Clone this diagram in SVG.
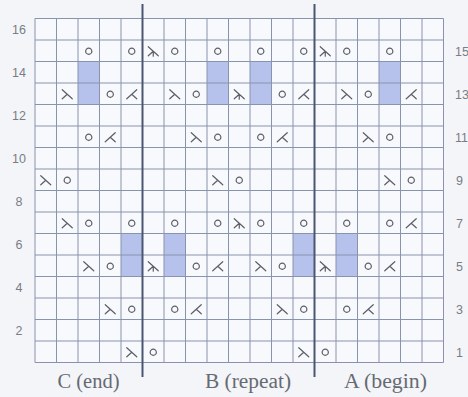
<svg xmlns="http://www.w3.org/2000/svg" xmlns:xlink="http://www.w3.org/1999/xlink" width="468" height="397" viewBox="0 0 468 397">
<style>
.grid line{stroke:#8893ad;stroke-width:1}
.shade{fill:#b7c2ec}
.sym{fill:none;stroke:#5a5e66;stroke-width:1.2;stroke-linecap:round}
.num{font-family:"Liberation Sans",Arial,sans-serif;font-size:12.5px;fill:#7a7d84}
.sec{font-family:"Liberation Serif","Times New Roman",serif;font-size:20px;fill:#666a72;text-anchor:middle}
.divider{stroke:#4b5672;stroke-width:2}
</style>
<defs>
<g id="yo" class="sym"><circle cx="0" cy="0" r="3.1"/></g>
<g id="ssk" class="sym"><path d="M-5,-4.5 L5,4.5 M0,0 L-5,4.5"/></g>
<g id="k2tog" class="sym"><path d="M5,-4.5 L-5,4.5 M0,0 L5,4.5"/></g>
<g id="sk2p" class="sym"><path d="M-5,-4.5 L5,4.5 M0,0 L-5,4.5 M0,0 L0,5"/></g>
</defs>
<rect x="0" y="0" width="468" height="397" fill="#f4f5f9"/>
<rect x="35" y="18.5" width="408.5" height="344" fill="#f8f9fc"/>
<g id="shading">
<rect class="shade" x="78" y="61.5" width="21.5" height="43"/>
<rect class="shade" x="207" y="61.5" width="21.5" height="43"/>
<rect class="shade" x="250" y="61.5" width="21.5" height="43"/>
<rect class="shade" x="379" y="61.5" width="21.5" height="43"/>
<rect class="shade" x="121" y="233.5" width="21.5" height="43"/>
<rect class="shade" x="164" y="233.5" width="21.5" height="43"/>
<rect class="shade" x="293" y="233.5" width="21.5" height="43"/>
<rect class="shade" x="336" y="233.5" width="21.5" height="43"/>
</g>
<g id="grid" class="grid">
<line x1="35" y1="18.5" x2="35" y2="362.5"/>
<line x1="56.5" y1="18.5" x2="56.5" y2="362.5"/>
<line x1="78" y1="18.5" x2="78" y2="362.5"/>
<line x1="99.5" y1="18.5" x2="99.5" y2="362.5"/>
<line x1="121" y1="18.5" x2="121" y2="362.5"/>
<line x1="142.5" y1="18.5" x2="142.5" y2="362.5"/>
<line x1="164" y1="18.5" x2="164" y2="362.5"/>
<line x1="185.5" y1="18.5" x2="185.5" y2="362.5"/>
<line x1="207" y1="18.5" x2="207" y2="362.5"/>
<line x1="228.5" y1="18.5" x2="228.5" y2="362.5"/>
<line x1="250" y1="18.5" x2="250" y2="362.5"/>
<line x1="271.5" y1="18.5" x2="271.5" y2="362.5"/>
<line x1="293" y1="18.5" x2="293" y2="362.5"/>
<line x1="314.5" y1="18.5" x2="314.5" y2="362.5"/>
<line x1="336" y1="18.5" x2="336" y2="362.5"/>
<line x1="357.5" y1="18.5" x2="357.5" y2="362.5"/>
<line x1="379" y1="18.5" x2="379" y2="362.5"/>
<line x1="400.5" y1="18.5" x2="400.5" y2="362.5"/>
<line x1="422" y1="18.5" x2="422" y2="362.5"/>
<line x1="443.5" y1="18.5" x2="443.5" y2="362.5"/>
<line x1="35" y1="18.5" x2="443.5" y2="18.5"/>
<line x1="35" y1="40" x2="443.5" y2="40"/>
<line x1="35" y1="61.5" x2="443.5" y2="61.5"/>
<line x1="35" y1="83" x2="443.5" y2="83"/>
<line x1="35" y1="104.5" x2="443.5" y2="104.5"/>
<line x1="35" y1="126" x2="443.5" y2="126"/>
<line x1="35" y1="147.5" x2="443.5" y2="147.5"/>
<line x1="35" y1="169" x2="443.5" y2="169"/>
<line x1="35" y1="190.5" x2="443.5" y2="190.5"/>
<line x1="35" y1="212" x2="443.5" y2="212"/>
<line x1="35" y1="233.5" x2="443.5" y2="233.5"/>
<line x1="35" y1="255" x2="443.5" y2="255"/>
<line x1="35" y1="276.5" x2="443.5" y2="276.5"/>
<line x1="35" y1="298" x2="443.5" y2="298"/>
<line x1="35" y1="319.5" x2="443.5" y2="319.5"/>
<line x1="35" y1="341" x2="443.5" y2="341"/>
<line x1="35" y1="362.5" x2="443.5" y2="362.5"/>
</g>
<g id="dividers">
<line class="divider" x1="142.5" y1="4" x2="142.5" y2="377"/>
<line class="divider" x1="314.5" y1="4" x2="314.5" y2="377"/>
</g>
<g id="stitches">
<!-- row 15 cy=51.25 -->
<use xlink:href="#yo" x="88.75" y="51.25"/>
<use xlink:href="#yo" x="131.75" y="51.25"/>
<use xlink:href="#sk2p" x="153.25" y="51.25"/>
<use xlink:href="#yo" x="174.75" y="51.25"/>
<use xlink:href="#yo" x="217.75" y="51.25"/>
<use xlink:href="#yo" x="260.75" y="51.25"/>
<use xlink:href="#yo" x="303.75" y="51.25"/>
<use xlink:href="#sk2p" x="325.25" y="51.25"/>
<use xlink:href="#yo" x="346.75" y="51.25"/>
<use xlink:href="#yo" x="389.75" y="51.25"/>
<!-- row 13 cy=94.25 -->
<use xlink:href="#ssk" x="67.25" y="94.25"/>
<use xlink:href="#yo" x="110.25" y="94.25"/>
<use xlink:href="#k2tog" x="131.75" y="94.25"/>
<use xlink:href="#ssk" x="174.75" y="94.25"/>
<use xlink:href="#yo" x="196.25" y="94.25"/>
<use xlink:href="#sk2p" x="239.25" y="94.25"/>
<use xlink:href="#yo" x="282.25" y="94.25"/>
<use xlink:href="#k2tog" x="303.75" y="94.25"/>
<use xlink:href="#ssk" x="346.75" y="94.25"/>
<use xlink:href="#yo" x="368.25" y="94.25"/>
<use xlink:href="#k2tog" x="411.25" y="94.25"/>
<!-- row 11 cy=137.25 -->
<use xlink:href="#yo" x="88.75" y="137.25"/>
<use xlink:href="#k2tog" x="110.25" y="137.25"/>
<use xlink:href="#ssk" x="196.25" y="137.25"/>
<use xlink:href="#yo" x="217.75" y="137.25"/>
<use xlink:href="#yo" x="260.75" y="137.25"/>
<use xlink:href="#k2tog" x="282.25" y="137.25"/>
<use xlink:href="#ssk" x="368.25" y="137.25"/>
<use xlink:href="#yo" x="389.75" y="137.25"/>
<!-- row 9 cy=180.25 -->
<use xlink:href="#ssk" x="45.75" y="180.25"/>
<use xlink:href="#yo" x="67.25" y="180.25"/>
<use xlink:href="#ssk" x="217.75" y="180.25"/>
<use xlink:href="#yo" x="239.25" y="180.25"/>
<use xlink:href="#ssk" x="389.75" y="180.25"/>
<use xlink:href="#yo" x="411.25" y="180.25"/>
<!-- row 7 cy=223.25 -->
<use xlink:href="#ssk" x="67.25" y="223.25"/>
<use xlink:href="#yo" x="88.75" y="223.25"/>
<use xlink:href="#yo" x="131.75" y="223.25"/>
<use xlink:href="#yo" x="174.75" y="223.25"/>
<use xlink:href="#yo" x="217.75" y="223.25"/>
<use xlink:href="#sk2p" x="239.25" y="223.25"/>
<use xlink:href="#yo" x="260.75" y="223.25"/>
<use xlink:href="#yo" x="303.75" y="223.25"/>
<use xlink:href="#yo" x="346.75" y="223.25"/>
<use xlink:href="#yo" x="389.75" y="223.25"/>
<use xlink:href="#k2tog" x="411.25" y="223.25"/>
<!-- row 5 cy=266.25 -->
<use xlink:href="#ssk" x="88.75" y="266.25"/>
<use xlink:href="#yo" x="110.25" y="266.25"/>
<use xlink:href="#sk2p" x="153.25" y="266.25"/>
<use xlink:href="#yo" x="196.25" y="266.25"/>
<use xlink:href="#k2tog" x="217.75" y="266.25"/>
<use xlink:href="#ssk" x="260.75" y="266.25"/>
<use xlink:href="#yo" x="282.25" y="266.25"/>
<use xlink:href="#sk2p" x="325.25" y="266.25"/>
<use xlink:href="#yo" x="368.25" y="266.25"/>
<use xlink:href="#k2tog" x="389.75" y="266.25"/>
<!-- row 3 cy=309.25 -->
<use xlink:href="#ssk" x="110.25" y="309.25"/>
<use xlink:href="#yo" x="131.75" y="309.25"/>
<use xlink:href="#yo" x="174.75" y="309.25"/>
<use xlink:href="#k2tog" x="196.25" y="309.25"/>
<use xlink:href="#ssk" x="282.25" y="309.25"/>
<use xlink:href="#yo" x="303.75" y="309.25"/>
<use xlink:href="#yo" x="346.75" y="309.25"/>
<use xlink:href="#k2tog" x="368.25" y="309.25"/>
<!-- row 1 cy=352.25 -->
<use xlink:href="#ssk" x="131.75" y="352.25"/>
<use xlink:href="#yo" x="153.25" y="352.25"/>
<use xlink:href="#ssk" x="303.75" y="352.25"/>
<use xlink:href="#yo" x="325.25" y="352.25"/>
</g>
<g id="row-numbers-left" class="num" text-anchor="middle">
<text x="19" y="34">16</text>
<text x="19" y="77">14</text>
<text x="19" y="120">12</text>
<text x="19" y="163">10</text>
<text x="19" y="206">8</text>
<text x="19" y="249">6</text>
<text x="19" y="292">4</text>
<text x="19" y="335">2</text>
</g>
<g id="row-numbers-right" class="num">
<text x="455" y="56">15</text>
<text x="455" y="99">13</text>
<text x="455" y="142">11</text>
<text x="456" y="185">9</text>
<text x="456" y="228">7</text>
<text x="456" y="271">5</text>
<text x="456" y="314">3</text>
<text x="456" y="357">1</text>
</g>
<g id="section-labels">
<text class="sec" x="88.5" y="388" textLength="62" lengthAdjust="spacingAndGlyphs">C (end)</text>
<text class="sec" x="248" y="388" textLength="86" lengthAdjust="spacingAndGlyphs">B (repeat)</text>
<text class="sec" x="385.5" y="388" textLength="83" lengthAdjust="spacingAndGlyphs">A (begin)</text>
</g>
</svg>
